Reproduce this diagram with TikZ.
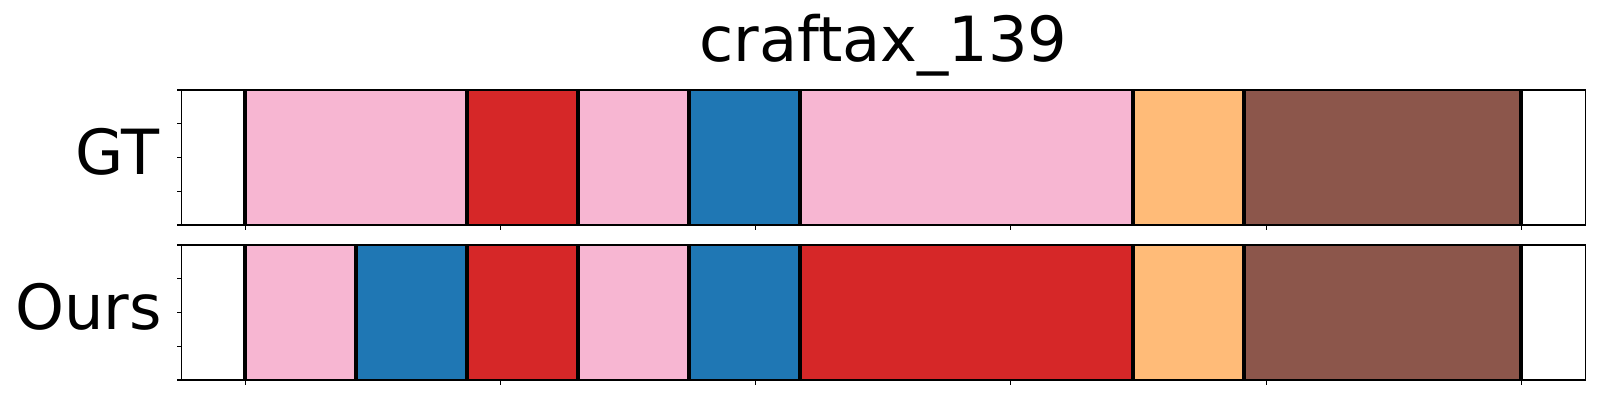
\documentclass[tikz,border=0pt]{standalone}
\usepackage{fontspec}
\setmainfont{DejaVu Sans}
\definecolor{cpink}{HTML}{F7B6D2}
\definecolor{cred}{HTML}{D62728}
\definecolor{cblue}{HTML}{1F77B4}
\definecolor{corange}{HTML}{FFBB78}
\definecolor{cbrown}{HTML}{8C564B}
\begin{document}
\begin{tikzpicture}[x=0.72bp,y=-0.72bp,
  sepline/.style={line width=3bp,black},
  axframe/.style={line width=0.8bp,black},
  tickmark/.style={line width=0.8bp,black},
  bigtext/.style={font=\fontsize{45}{54}\selectfont,inner sep=0pt},
]
\useasboundingbox (0,0) rectangle (1600,400);
% title and row labels
\node[bigtext,anchor=base] (title) at (883.3,61.7) {craftax\_139};
\node[bigtext,anchor=base east] (gt) at (160,175) {GT};
\node[bigtext,anchor=base east] (ours) at (162,330) {Ours};
% data-unit scope: x=0 at 245.3px, 5.104px per unit
\begin{scope}[shift={(245.3,0)},x=3.6749bp]
  % GT row
  \foreach \a/\b/\c in {0/43.478/cpink,43.478/65.217/cred,65.217/86.957/cpink,86.957/108.696/cblue,108.696/173.913/cpink,173.913/195.652/corange,195.652/250/cbrown}
    {\fill[\c] (\a,90) rectangle (\b,225);}
  \foreach \a in {0,43.478,65.217,86.957,108.696,173.913,195.652,250}
    {\draw[sepline] (\a,90) -- (\a,225);}
  \draw[axframe] (-12.5,90) rectangle (262.5,225);
  \foreach \t in {0,50,...,250}
    {\draw[tickmark] (\t,225) -- ++(0,4.86);}
  % Ours row
  \foreach \a/\b/\c in {0/21.739/cpink,21.739/43.478/cblue,43.478/65.217/cred,65.217/86.957/cpink,86.957/108.696/cblue,108.696/173.913/cred,173.913/195.652/corange,195.652/250/cbrown}
    {\fill[\c] (\a,245) rectangle (\b,380);}
  \foreach \a in {0,21.739,43.478,65.217,86.957,108.696,173.913,195.652,250}
    {\draw[sepline] (\a,245) -- (\a,380);}
  \draw[axframe] (-12.5,245) rectangle (262.5,380);
  \foreach \t in {0,50,...,250}
    {\draw[tickmark] (\t,380) -- ++(0,4.86);}
\end{scope}
% y ticks
\foreach \y in {90,123.75,157.5,191.25,225,245,278.75,312.5,346.25,380}
  {\draw[tickmark] (181.5,\y) -- ++(-4.86,0);}
\end{tikzpicture}
\end{document}
